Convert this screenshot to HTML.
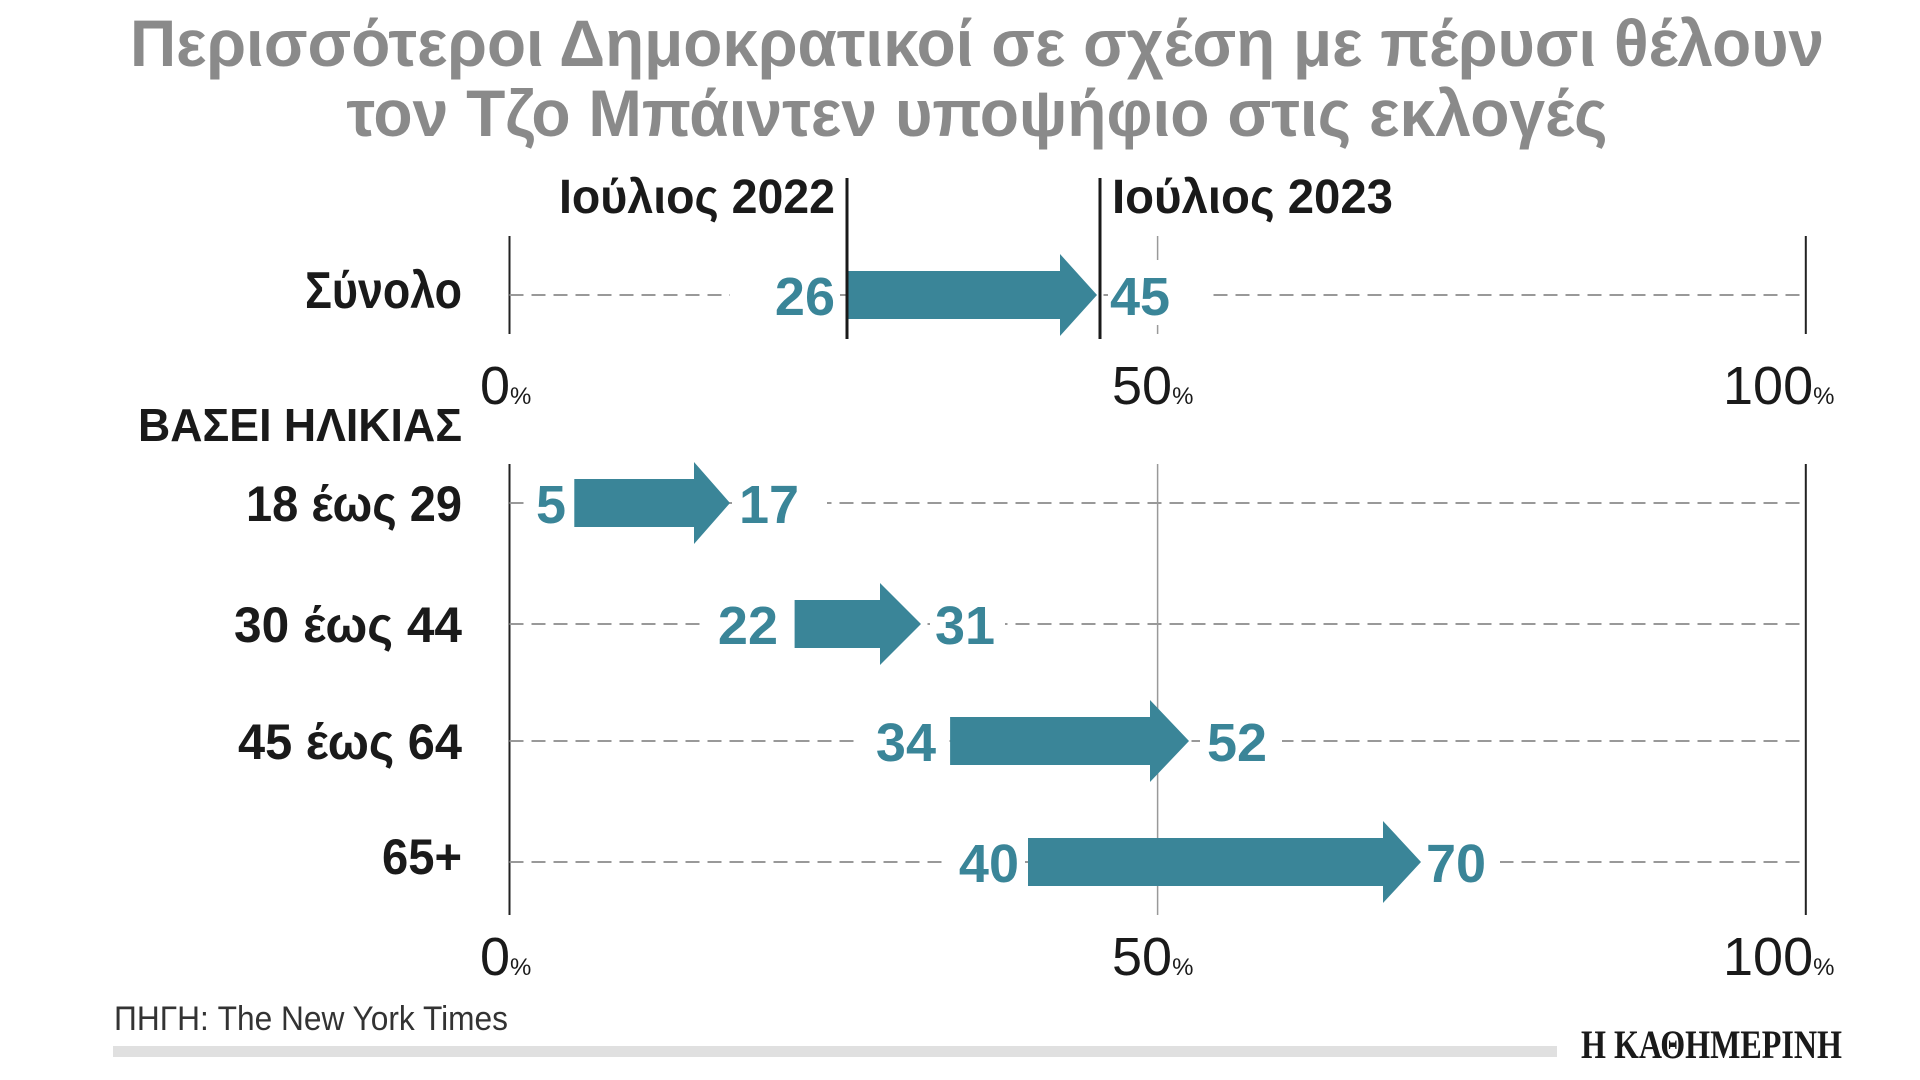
<!DOCTYPE html>
<html><head><meta charset="utf-8"><style>
html,body{margin:0;padding:0;background:#fff;}
svg{display:block;}
text{font-family:"Liberation Sans","DejaVu Sans",sans-serif;}
</style></head><body>
<svg width="1920" height="1080" viewBox="0 0 1920 1080" xmlns="http://www.w3.org/2000/svg">
<rect width="1920" height="1080" fill="#fff"/>
<text x="977" y="66" text-anchor="middle" font-size="66" font-weight="bold" fill="#8a8a8a" textLength="1694" lengthAdjust="spacingAndGlyphs">Περισσότεροι Δημοκρατικοί σε σχέση με πέρυσι θέλουν</text>
<text x="977" y="136" text-anchor="middle" font-size="66" font-weight="bold" fill="#8a8a8a" textLength="1261" lengthAdjust="spacingAndGlyphs">τον Τζο Μπάιντεν υποψήφιο στις εκλογές</text>

<text x="835" y="213" text-anchor="end" font-size="48" font-weight="bold" fill="#1a1a1a" textLength="276" lengthAdjust="spacingAndGlyphs">Ιούλιος 2022</text>
<text x="1112" y="213" font-size="48" font-weight="bold" fill="#1a1a1a" textLength="281" lengthAdjust="spacingAndGlyphs">Ιούλιος 2023</text>
<line x1="509.5" y1="236" x2="509.5" y2="334" stroke="#222" stroke-width="2"/>
<line x1="1805.8" y1="236" x2="1805.8" y2="334" stroke="#222" stroke-width="2"/>
<line x1="1157.6" y1="236" x2="1157.6" y2="334" stroke="#999" stroke-width="1.5" stroke-dasharray="24,62"/>
<line x1="509.5" y1="295" x2="1805.8" y2="295" stroke="#999" stroke-width="2" stroke-dasharray="14,8"/>
<rect x="730" y="265" width="110" height="60" fill="#fff"/>
<rect x="1108" y="265" width="100" height="60" fill="#fff"/>
<polygon points="847,271 1060,271 1060,254 1097,295 1060,336 1060,319 847,319" fill="#3a8598"/>
<line x1="847" y1="178" x2="847" y2="339" stroke="#1a1a1a" stroke-width="3"/>
<line x1="1100" y1="178" x2="1100" y2="339" stroke="#1a1a1a" stroke-width="3"/>
<text x="835" y="315" text-anchor="end" font-size="54" font-weight="bold" fill="#3a8598">26</text>
<text x="1110" y="315" font-size="54" font-weight="bold" fill="#3a8598">45</text>
<text x="462" y="308" text-anchor="end" font-size="52" font-weight="bold" fill="#1a1a1a" textLength="157" lengthAdjust="spacingAndGlyphs">Σύνολο</text>

<g font-size="54" fill="#1a1a1a">
<text x="480" y="404">0<tspan font-size="24">%</tspan></text>
<text x="1112" y="404">50<tspan font-size="24">%</tspan></text>
<text x="1723" y="404">100<tspan font-size="24">%</tspan></text>
</g>
<text x="462" y="441" text-anchor="end" font-size="46" font-weight="bold" fill="#1a1a1a" textLength="324" lengthAdjust="spacingAndGlyphs">ΒΑΣΕΙ ΗΛΙΚΙΑΣ</text>

<line x1="509.5" y1="464" x2="509.5" y2="915" stroke="#222" stroke-width="2"/>
<line x1="1805.8" y1="464" x2="1805.8" y2="915" stroke="#222" stroke-width="2"/>
<line x1="1157.6" y1="464" x2="1157.6" y2="915" stroke="#999" stroke-width="1.5"/>
<g stroke="#999" stroke-width="2" stroke-dasharray="14,8">
<line x1="509.5" y1="503" x2="1805.8" y2="503"/>
<line x1="509.5" y1="624" x2="1805.8" y2="624"/>
<line x1="509.5" y1="741" x2="1805.8" y2="741"/>
<line x1="509.5" y1="862" x2="1805.8" y2="862"/>
</g>
<g fill="#fff">
<rect x="530" y="475" width="44" height="58"/><rect x="732" y="475" width="95" height="58"/>
<rect x="705" y="596" width="85" height="58"/><rect x="930" y="596" width="75" height="58"/>
<rect x="860" y="713" width="82" height="58"/><rect x="1200" y="713" width="82" height="58"/>
<rect x="943" y="834" width="82" height="58"/><rect x="1420" y="834" width="80" height="58"/>
</g>
<g fill="#3a8598">
<polygon points="574.3,479 694,479 694,462 730,503 694,544 694,527 574.3,527"/>
<polygon points="794.6,600 880,600 880,583 921,624 880,665 880,648 794.6,648"/>
<polygon points="950.1,717 1150,717 1150,700 1189,741 1150,782 1150,765 950.1,765"/>
<polygon points="1028,838 1383,838 1383,821 1421,862 1383,903 1383,886 1028,886"/>
</g>
<g font-size="54" font-weight="bold" fill="#3a8598">
<text x="566" y="523" text-anchor="end">5</text>
<text x="739" y="523">17</text>
<text x="778" y="644" text-anchor="end">22</text>
<text x="935" y="644">31</text>
<text x="936" y="761" text-anchor="end">34</text>
<text x="1207" y="761">52</text>
<text x="1019" y="882" text-anchor="end">40</text>
<text x="1426" y="882">70</text>
</g>
<g font-size="50" font-weight="bold" fill="#1a1a1a" text-anchor="end">
<text x="462" y="521" textLength="216" lengthAdjust="spacingAndGlyphs">18 έως 29</text>
<text x="462" y="642" textLength="228" lengthAdjust="spacingAndGlyphs">30 έως 44</text>
<text x="462" y="759" textLength="224" lengthAdjust="spacingAndGlyphs">45 έως 64</text>
<text x="462" y="874" textLength="80" lengthAdjust="spacingAndGlyphs">65+</text>
</g>
<g font-size="54" fill="#1a1a1a">
<text x="480" y="975">0<tspan font-size="24">%</tspan></text>
<text x="1112" y="975">50<tspan font-size="24">%</tspan></text>
<text x="1723" y="975">100<tspan font-size="24">%</tspan></text>
</g>

<text x="114" y="1030" font-size="34" fill="#333" textLength="394" lengthAdjust="spacingAndGlyphs">ΠΗΓΗ: The New York Times</text>
<rect x="113" y="1046" width="1444" height="11" fill="#e0e0e0"/>
<text x="1581" y="1058" font-size="40" font-weight="bold" fill="#1a1a1a" textLength="261" lengthAdjust="spacingAndGlyphs" style="font-family:'Liberation Serif',serif">Η ΚΑΘΗΜΕΡΙΝΗ</text>
</svg>
</body></html>
